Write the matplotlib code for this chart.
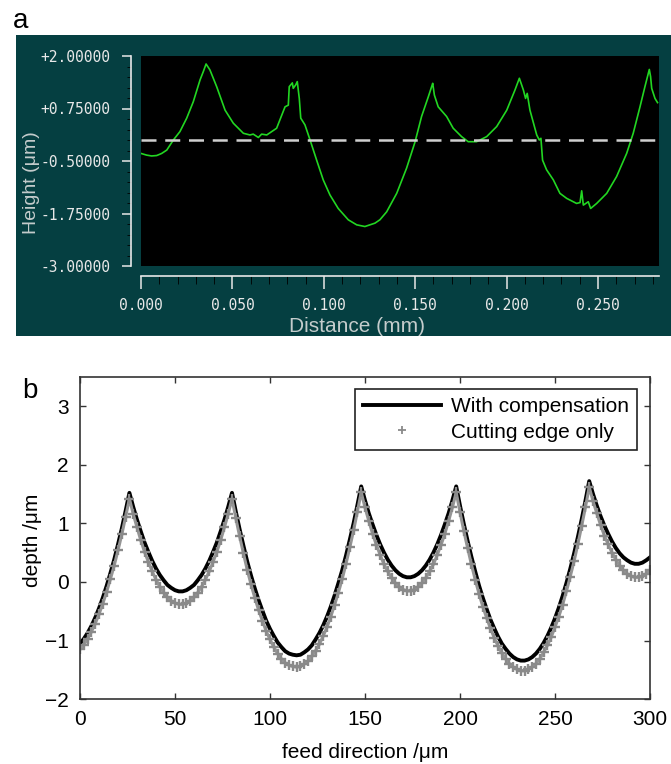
import matplotlib.pyplot as plt
from matplotlib.patches import Rectangle
from matplotlib.ticker import FixedLocator, MultipleLocator

plt.rcParams['font.family'] = ['Liberation Sans', 'DejaVu Sans']

dist_mm = [0.0000, 0.0031, 0.0058, 0.0086, 0.0113, 0.0141, 0.0177, 0.0213, 0.0250, 0.0286,
           0.0323, 0.0341, 0.0356, 0.0377, 0.0414, 0.0460, 0.0505, 0.0560, 0.0596, 0.0614,
           0.0642, 0.0660, 0.0688, 0.0742, 0.0788, 0.0806, 0.0811, 0.0828, 0.0833, 0.0846,
           0.0855, 0.0866, 0.0874, 0.0897, 0.0925, 0.0961, 0.0997, 0.1034, 0.1079, 0.1134,
           0.1180, 0.1225, 0.1280, 0.1307, 0.1344, 0.1399, 0.1453, 0.1499, 0.1535, 0.1572,
           0.1590, 0.1596, 0.1605, 0.1626, 0.1672, 0.1708, 0.1754, 0.1790, 0.1836, 0.1891,
           0.1946, 0.2001, 0.2046, 0.2070, 0.2092, 0.2104, 0.2113, 0.2128, 0.2165, 0.2179,
           0.2188, 0.2197, 0.2219, 0.2256, 0.2292, 0.2329, 0.2383, 0.2402, 0.2411, 0.2420,
           0.2447, 0.2460, 0.2493, 0.2548, 0.2602, 0.2657, 0.2693, 0.2730, 0.2757, 0.2781,
           0.2788, 0.2794, 0.2812, 0.2826]
height_um = [-0.32, -0.36, -0.38, -0.37, -0.32, -0.24, 0.00, 0.20, 0.52, 0.91,
             1.43, 1.63, 1.81, 1.67, 1.27, 0.71, 0.40, 0.16, 0.12, 0.14,
             0.06, 0.14, 0.12, 0.28, 0.79, 0.83, 1.27, 1.36, 1.23, 1.31,
             1.39, 0.99, 0.52, 0.36, 0.00, -0.48, -0.95, -1.31, -1.63, -1.90,
             -2.02, -2.06, -1.98, -1.90, -1.71, -1.27, -0.67, -0.05, 0.56, 1.03,
             1.27, 1.35, 1.07, 0.79, 0.56, 0.28, 0.08, -0.04, -0.04, 0.08,
             0.32, 0.71, 1.19, 1.47, 1.19, 0.99, 1.11, 0.71, 0.12, 0.00,
             0.04, -0.48, -0.71, -0.95, -1.27, -1.39, -1.51, -1.49, -1.21, -1.55,
             -1.47, -1.63, -1.51, -1.27, -0.87, -0.32, 0.16, 0.79, 1.27, 1.68,
             1.51, 1.23, 0.99, 0.89]
a_yticks = [2.0, 0.75, -0.5, -1.75, -3.0]
a_yticklabels = ['+2.00000', '+0.75000', '-0.50000', '-1.75000', '-3.00000']
a_xticks = [0.0, 0.05, 0.10, 0.15, 0.20, 0.25]
a_xticklabels = ['0.000', '0.050', '0.100', '0.150', '0.200', '0.250']

# ---- panel b: simulated profiles, sampled every 2 um
feed_um = list(range(0, 301, 2))
with_comp = [-1.05, -0.97, -0.87, -0.75, -0.61, -0.45, -0.27, -0.07, 0.15, 0.38, 0.64, 0.91, 1.21, 1.52,
             1.28, 1.06, 0.86, 0.67, 0.51, 0.36, 0.23, 0.12, 0.03, -0.05, -0.10, -0.14, -0.16,
             -0.16, -0.14, -0.10, -0.05, 0.03, 0.12, 0.23, 0.36, 0.51, 0.67, 0.86, 1.06, 1.28, 1.52,
             1.20, 0.90, 0.62, 0.35, 0.11, -0.11, -0.31, -0.49, -0.66, -0.80, -0.92, -1.03, -1.11,
             -1.18, -1.22, -1.24, -1.25,
             -1.24, -1.20, -1.15, -1.08, -0.98, -0.87, -0.74, -0.59, -0.42, -0.23, -0.02, 0.20,
             0.45, 0.72, 1.00, 1.31, 1.63,
             1.39, 1.17, 0.98, 0.80, 0.64, 0.50, 0.38, 0.28, 0.20, 0.14, 0.10, 0.08,
             0.08, 0.10, 0.14, 0.20, 0.28, 0.38, 0.50, 0.64, 0.80, 0.98, 1.17, 1.39, 1.63,
             1.30, 0.99, 0.70, 0.43, 0.18, -0.06, -0.27, -0.46, -0.64, -0.79, -0.93, -1.05, -1.14,
             -1.22, -1.28, -1.32, -1.34,
             -1.34, -1.32, -1.28, -1.22, -1.14, -1.04, -0.92, -0.78, -0.62, -0.44, -0.24, -0.02,
             0.22, 0.48, 0.76, 1.06, 1.38, 1.72,
             1.50, 1.30, 1.12, 0.96, 0.82, 0.69, 0.58, 0.49, 0.42, 0.37, 0.33, 0.31,
             0.31, 0.33, 0.37, 0.42]
edge_only = [-1.15, -1.07, -0.97, -0.85, -0.71, -0.55, -0.37, -0.17, 0.05, 0.28, 0.54, 0.81, 1.11, 1.42,
             1.16, 0.93, 0.71, 0.51, 0.34, 0.18, 0.04, -0.08, -0.18, -0.26, -0.32, -0.36, -0.38,
             -0.38, -0.36, -0.32, -0.26, -0.18, -0.08, 0.04, 0.18, 0.34, 0.51, 0.71, 0.93, 1.16, 1.42,
             1.09, 0.78, 0.49, 0.21, -0.04, -0.27, -0.48, -0.66, -0.84, -0.98, -1.11, -1.22, -1.31,
             -1.38, -1.42, -1.44, -1.45,
             -1.44, -1.40, -1.35, -1.27, -1.17, -1.06, -0.92, -0.77, -0.59, -0.39, -0.18, 0.05,
             0.31, 0.59, 0.88, 1.20, 1.53,
             1.27, 1.04, 0.82, 0.63, 0.46, 0.30, 0.18, 0.07, -0.02, -0.08, -0.13, -0.15,
             -0.15, -0.13, -0.08, -0.02, 0.07, 0.18, 0.30, 0.46, 0.63, 0.82, 1.04, 1.27, 1.53,
             1.19, 0.87, 0.58, 0.30, 0.04, -0.20, -0.42, -0.61, -0.79, -0.95, -1.09, -1.21, -1.31,
             -1.39, -1.45, -1.49, -1.51,
             -1.51, -1.49, -1.45, -1.39, -1.31, -1.20, -1.08, -0.94, -0.77, -0.59, -0.39, -0.16,
             0.09, 0.35, 0.64, 0.95, 1.27, 1.62,
             1.38, 1.17, 0.97, 0.79, 0.64, 0.50, 0.38, 0.28, 0.20, 0.14, 0.10, 0.08,
             0.08, 0.10, 0.14, 0.20]

W, H = 671, 764
fig = plt.figure(figsize=(W / 100, H / 100), dpi=100)

# teal instrument window behind panel a
fig.add_artist(Rectangle((16 / W, 1 - 336 / H), 1 - 16 / W, 301 / H,
                         transform=fig.transFigure, facecolor='#053f41',
                         edgecolor='none', zorder=0))

axa = fig.add_axes([141 / W, 1 - 266 / H, 518 / W, 210 / H])
axa.set_facecolor('black')
axa.plot(dist_mm, height_um, color='#22d622', lw=1.2)
axa.axhline(0, color='#cfcfcf', lw=1.8, dashes=(6, 3.5))
axa.set_xlim(0, 0.2834)
axa.set_ylim(-3, 2)
axa.spines['top'].set_visible(False)
axa.spines['right'].set_visible(False)
for s in ['left', 'bottom']:
    axa.spines[s].set_position(('outward', 7.2))
    axa.spines[s].set_color('#e8e8e8')
    axa.spines[s].set_linewidth(1.2)
axa.yaxis.set_major_locator(FixedLocator(a_yticks))
axa.set_yticklabels(a_yticklabels)
axa.yaxis.set_minor_locator(MultipleLocator(0.25))
axa.xaxis.set_major_locator(FixedLocator(a_xticks))
axa.set_xticklabels(a_xticklabels)
axa.xaxis.set_minor_locator(MultipleLocator(0.01))
axa.tick_params(colors='#e8e8e8', width=1.1)
axa.tick_params(axis='y', which='major', length=6.5, pad=8, labelsize=10.5)
axa.tick_params(axis='y', which='minor', length=3.2)
axa.tick_params(axis='x', which='major', length=9.5, pad=6, labelsize=10.5)
axa.tick_params(axis='x', which='minor', length=5.8)
for lab in axa.get_xticklabels() + axa.get_yticklabels():
    lab.set_fontfamily('DejaVu Sans Mono')

fig.text(32 / W, 1 - 183 / H, 'Height (μm)', rotation=90, ha='center', va='center',
         fontsize=14, color='#c4cccc')
fig.text(357 / W, 1 - 326 / H, 'Distance (mm)', ha='center', va='center',
         fontsize=15, color='#c4cccc')
fig.text(13 / W, 1 - 28 / H, 'a', fontsize=20, va='baseline')

# ---- panel b
axb = fig.add_axes([80 / W, 1 - 699.3 / H, 570 / W, 322.6 / H])
axb.plot(feed_um, with_comp, color='black', lw=2.8, label='With compensation')
# dense markers in the original merge into a band; a soft line under them gives that look
axb.plot(feed_um, edge_only, color='#959595', lw=2.2)
axb.plot(feed_um, edge_only, ls='none', marker='+', ms=7.5, mew=1.7,
         color='#8a8a8a', label='Cutting edge only')
axb.set_xlim(0, 300)
axb.set_ylim(-2, 3.5)
axb.set_xticks([0, 50, 100, 150, 200, 250, 300])
axb.set_yticks([-2, -1, 0, 1, 2, 3])
axb.tick_params(direction='in', top=True, right=True, length=4.3, width=1,
                labelsize=15, pad=8, color='#333333')
for s in axb.spines.values():
    s.set_color('#333333')
    s.set_linewidth(1.2)
leg = axb.legend(loc='upper right', bbox_to_anchor=(0.977, 0.962), fontsize=15,
                 handlelength=3.75, handletextpad=0.45, fancybox=False,
                 edgecolor='#222222', framealpha=1, borderpad=0.4,
                 labelspacing=0.3, numpoints=1, borderaxespad=0)
leg.get_frame().set_linewidth(1.2)
leg.legend_handles[1].set_markersize(5.5)
leg.legend_handles[1].set_markeredgewidth(1.3)

fig.text(32 / W, 1 - 540 / H, 'depth /μm', rotation=90, ha='center', va='center', fontsize=15)
fig.text(365 / W, 1 - 753 / H, 'feed direction /μm', ha='center', va='center', fontsize=15)
fig.text(22 / W, 1 - 398 / H, 'b', fontsize=20, va='baseline')

fig.savefig('out.png', dpi=100)
